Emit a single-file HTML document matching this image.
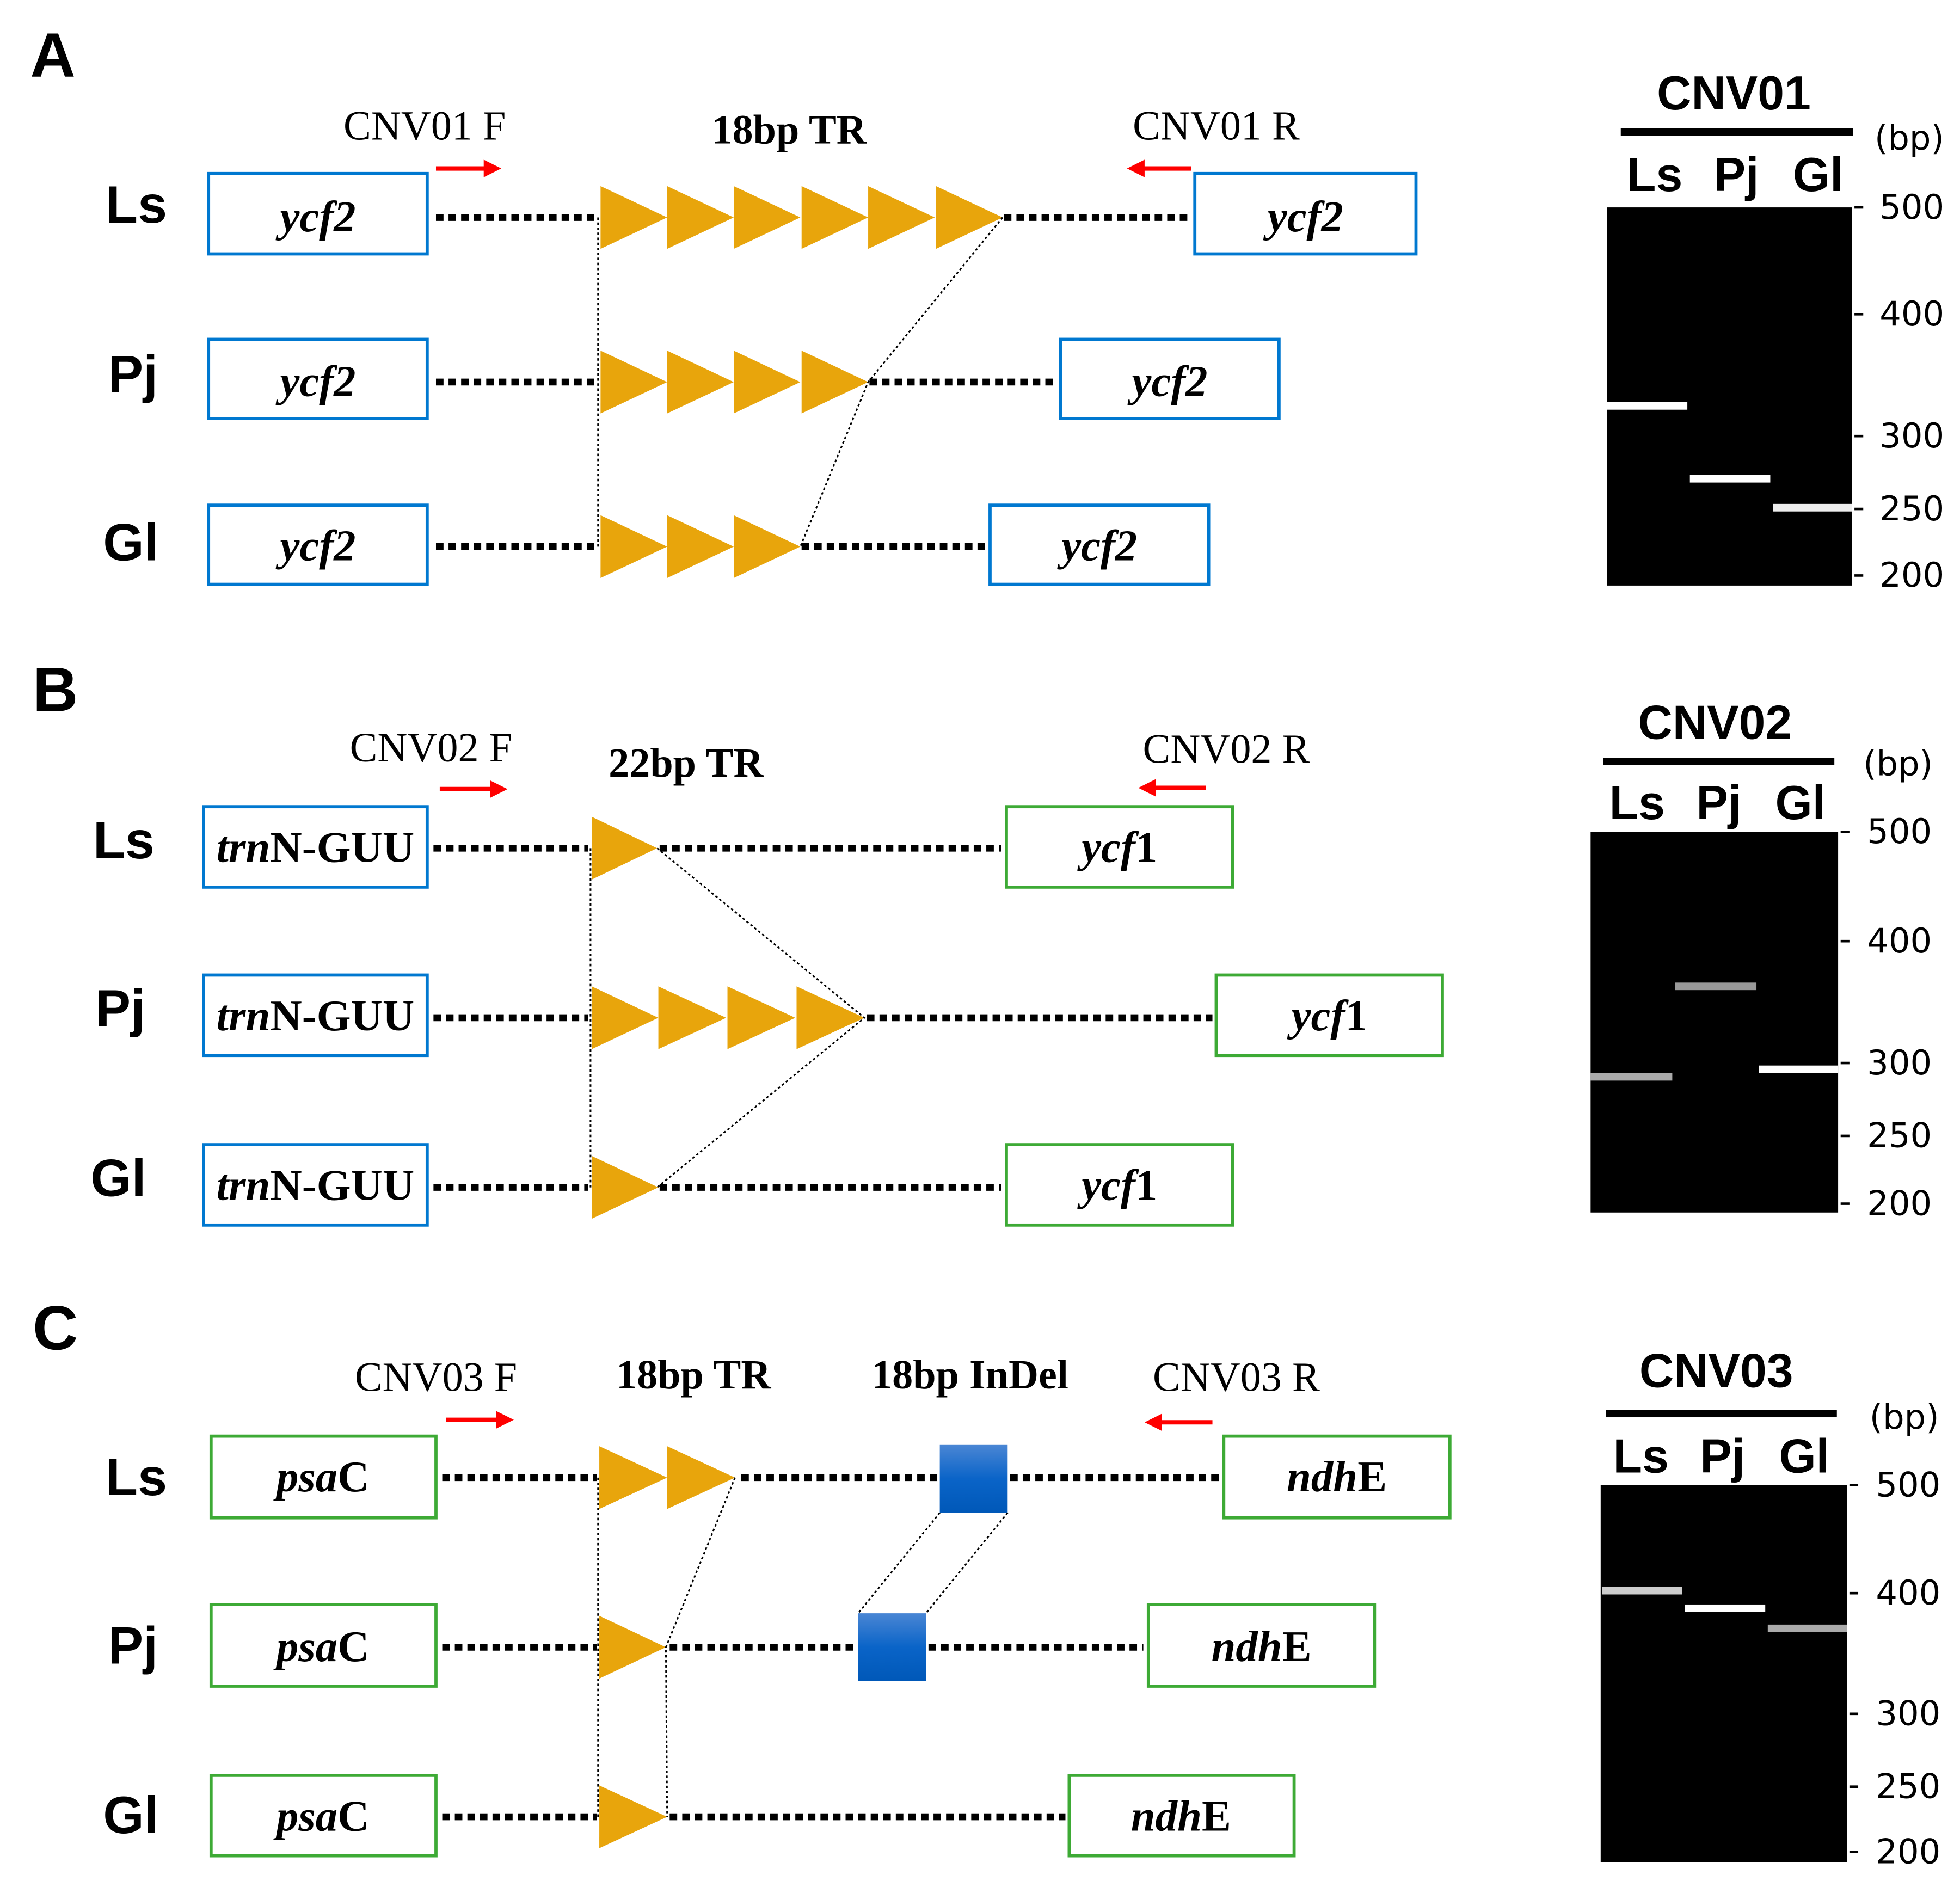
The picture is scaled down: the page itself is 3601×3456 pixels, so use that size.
<!DOCTYPE html>
<html><head><meta charset="utf-8"><style>
html,body{margin:0;padding:0;background:#fff;}
svg{display:block;}
.lab{font-family:"Liberation Sans",sans-serif;font-weight:bold;}
.ser{font-family:"Liberation Serif",serif;}
.gene{font-family:"Liberation Serif",serif;font-weight:bold;font-size:35px;}
.tick{font-family:"DejaVu Sans","Liberation Sans",sans-serif;font-size:27px;}
</style></head><body>
<svg width="3601" height="3456" viewBox="0 0 1560 1497" xmlns="http://www.w3.org/2000/svg">
<defs>
<linearGradient id="bg" x1="0" y1="0" x2="0" y2="1"><stop offset="0" stop-color="#4a86d4"/><stop offset="0.5" stop-color="#0a64c8"/><stop offset="1" stop-color="#0058b8"/></linearGradient>
<marker id="ah" markerWidth="4" markerHeight="4" refX="2" refY="2" orient="auto" markerUnits="strokeWidth"><path d="M0,0 L4,2 L0,4 z" fill="#ff0000"/></marker>
</defs>
<g fill="none" stroke="#000" stroke-width="5.5" stroke-dasharray="6,4">
<line x1="347" y1="173" x2="475" y2="173"/><line x1="799" y1="173" x2="945" y2="173"/>
<line x1="347" y1="304" x2="475" y2="304"/><line x1="692" y1="304" x2="840" y2="304"/>
<line x1="347" y1="435" x2="475" y2="435"/><line x1="638" y1="435" x2="785" y2="435"/>
<line x1="345" y1="675" x2="468" y2="675"/><line x1="525" y1="675" x2="797" y2="675"/>
<line x1="345" y1="810" x2="468" y2="810"/><line x1="690" y1="810" x2="965" y2="810"/>
<line x1="345" y1="945" x2="468" y2="945"/><line x1="525" y1="945" x2="797" y2="945"/>
<line x1="352" y1="1176" x2="475" y2="1176"/><line x1="590" y1="1176" x2="746" y2="1176"/><line x1="804" y1="1176" x2="970" y2="1176"/>
<line x1="352" y1="1311" x2="475" y2="1311"/><line x1="533" y1="1311" x2="681" y2="1311"/><line x1="739" y1="1311" x2="910" y2="1311"/>
<line x1="352" y1="1446" x2="475" y2="1446"/><line x1="533" y1="1446" x2="848" y2="1446"/>
</g>
<g fill="#E8A50C">
<polygon points="478,148 531,173 478,198"/><polygon points="531,148 584,173 531,198"/><polygon points="584,148 637,173 584,198"/><polygon points="638,148 691,173 638,198"/><polygon points="691,148 744,173 691,198"/><polygon points="745,148 798,173 745,198"/>
<polygon points="478,279 531,304 478,329"/><polygon points="531,279 584,304 531,329"/><polygon points="584,279 637,304 584,329"/><polygon points="638,279 691,304 638,329"/>
<polygon points="478,410 531,435 478,460"/><polygon points="531,410 584,435 531,460"/><polygon points="584,410 637,435 584,460"/>
<polygon points="471,650 523,675 471,700"/>
<polygon points="471,785 524,810 471,835"/><polygon points="524,785 578,810 524,835"/><polygon points="579,785 633,810 579,835"/><polygon points="634,785 688,810 634,835"/>
<polygon points="471,920 524,945 471,970"/>
<polygon points="477,1151 531,1176 477,1201"/><polygon points="531,1151 585,1176 531,1201"/>
<polygon points="477,1286 530,1311 477,1336"/>
<polygon points="477,1421 531,1446 477,1471"/>
</g>
<rect x="748" y="1150" width="54" height="54" fill="url(#bg)"/>
<rect x="683" y="1284" width="54" height="54" fill="url(#bg)"/>
<g fill="none" stroke="#000" stroke-width="1.3" stroke-dasharray="2,2">
<line x1="476" y1="173" x2="476" y2="435"/><polyline points="798,173 691,304 637,435"/>
<line x1="470" y1="675" x2="470" y2="945"/><polyline points="523,675 688,810 523,945"/>
<line x1="476" y1="1176" x2="476" y2="1446"/><polyline points="585,1176 530,1311 531,1446"/>
<line x1="748" y1="1204" x2="683" y2="1284"/><line x1="802" y1="1204" x2="737" y2="1284"/>
</g>
<g fill="#fff" stroke-width="2.5">
<rect x="166" y="138" width="174" height="64" stroke="#0078D0"/><rect x="951" y="138" width="176" height="64" stroke="#0078D0"/>
<rect x="166" y="270" width="174" height="63" stroke="#0078D0"/><rect x="844" y="270" width="174" height="63" stroke="#0078D0"/>
<rect x="166" y="402" width="174" height="63" stroke="#0078D0"/><rect x="788" y="402" width="174" height="63" stroke="#0078D0"/>
<rect x="162" y="642" width="178" height="64" stroke="#0078D0"/><rect x="801" y="642" width="180" height="64" stroke="#3DAA35"/>
<rect x="162" y="776" width="178" height="64" stroke="#0078D0"/><rect x="968" y="776" width="180" height="64" stroke="#3DAA35"/>
<rect x="162" y="911" width="178" height="64" stroke="#0078D0"/><rect x="801" y="911" width="180" height="64" stroke="#3DAA35"/>
<rect x="168" y="1143" width="179" height="65" stroke="#3DAA35"/><rect x="974" y="1143" width="180" height="65" stroke="#3DAA35"/>
<rect x="168" y="1277" width="179" height="65" stroke="#3DAA35"/><rect x="914" y="1277" width="180" height="65" stroke="#3DAA35"/>
<rect x="168" y="1413" width="179" height="64" stroke="#3DAA35"/><rect x="851" y="1413" width="179" height="64" stroke="#3DAA35"/>
</g>
<g class="gene" text-anchor="middle">
<text x="253" y="184" font-style="italic">ycf2</text><text x="1039" y="184" font-style="italic">ycf2</text>
<text x="253" y="315" font-style="italic">ycf2</text><text x="931" y="315" font-style="italic">ycf2</text>
<text x="253" y="446" font-style="italic">ycf2</text><text x="875" y="446" font-style="italic">ycf2</text>
<text x="251" y="686"><tspan font-style="italic">trn</tspan>N-GUU</text><text x="891" y="686"><tspan font-style="italic">ycf</tspan>1</text>
<text x="251" y="820"><tspan font-style="italic">trn</tspan>N-GUU</text><text x="1058" y="820"><tspan font-style="italic">ycf</tspan>1</text>
<text x="251" y="955"><tspan font-style="italic">trn</tspan>N-GUU</text><text x="891" y="955"><tspan font-style="italic">ycf</tspan>1</text>
<text x="257" y="1187"><tspan font-style="italic">psa</tspan>C</text><text x="1064" y="1187"><tspan font-style="italic">ndh</tspan>E</text>
<text x="257" y="1322"><tspan font-style="italic">psa</tspan>C</text><text x="1004" y="1322"><tspan font-style="italic">ndh</tspan>E</text>
<text x="257" y="1457"><tspan font-style="italic">psa</tspan>C</text><text x="940" y="1457"><tspan font-style="italic">ndh</tspan>E</text>
</g>
<g class="ser" font-size="33" text-anchor="middle">
<text x="338" y="111">CNV01 F</text><text x="968" y="111">CNV01 R</text>
<text x="343" y="606">CNV02 F</text><text x="976" y="607">CNV02 R</text>
<text x="347" y="1107">CNV03 F</text><text x="984" y="1107">CNV03 R</text>
<g font-weight="bold"><text x="628" y="114">18bp TR</text><text x="546" y="618">22bp TR</text><text x="552" y="1105">18bp TR</text><text x="772" y="1105">18bp InDel</text></g>
</g>
<g stroke="#ff0000" stroke-width="3.5" fill="none">
<line x1="347" y1="134" x2="392" y2="134" marker-end="url(#ah)"/>
<line x1="948" y1="134" x2="904" y2="134" marker-end="url(#ah)"/>
<line x1="350" y1="628" x2="397" y2="628" marker-end="url(#ah)"/>
<line x1="960" y1="627" x2="913" y2="627" marker-end="url(#ah)"/>
<line x1="355" y1="1130" x2="402" y2="1130" marker-end="url(#ah)"/>
<line x1="965" y1="1132" x2="918" y2="1132" marker-end="url(#ah)"/>
</g>
<g class="lab" font-size="50"><text x="24" y="61">A</text><text x="26" y="566">B</text><text x="26" y="1074">C</text></g>
<g class="lab" font-size="42">
<text x="84" y="177">Ls</text><text x="86" y="312">Pj</text><text x="82" y="446">Gl</text>
<text x="74" y="683">Ls</text><text x="76" y="817">Pj</text><text x="72" y="952">Gl</text>
<text x="84" y="1190">Ls</text><text x="86" y="1324">Pj</text><text x="82" y="1459">Gl</text>
</g>
<g>
<rect x="1279" y="165" width="195" height="301" fill="#000"/>
<rect x="1279" y="320" width="64" height="6" fill="#fff"/><rect x="1345" y="378" width="64" height="6" fill="#fff"/><rect x="1411" y="401" width="63" height="6" fill="#eee"/>
<rect x="1290" y="102" width="185" height="6" fill="#000"/>
<g class="lab" font-size="38" text-anchor="middle"><text x="1380" y="87">CNV01</text><text x="1317" y="152">Ls</text><text x="1382" y="152">Pj</text><text x="1447" y="152">Gl</text></g>
<text class="tick" x="1492" y="119">(bp)</text>
<g stroke="#000" stroke-width="2"><line x1="1476" y1="165" x2="1483" y2="165"/><line x1="1476" y1="250" x2="1483" y2="250"/><line x1="1476" y1="347" x2="1483" y2="347"/><line x1="1476" y1="405" x2="1483" y2="405"/><line x1="1476" y1="458" x2="1483" y2="458"/></g>
<g class="tick"><text x="1496" y="174">500</text><text x="1496" y="259">400</text><text x="1496" y="356">300</text><text x="1496" y="414">250</text><text x="1496" y="467">200</text></g>
</g>
<g>
<rect x="1266" y="662" width="197" height="303" fill="#000"/>
<rect x="1266" y="854" width="65" height="6" fill="#aaa"/><rect x="1333" y="782" width="65" height="6" fill="#999"/><rect x="1400" y="848" width="63" height="6" fill="#fff"/>
<rect x="1276" y="603" width="184" height="6" fill="#000"/>
<g class="lab" font-size="38" text-anchor="middle"><text x="1365" y="588">CNV02</text><text x="1303" y="652">Ls</text><text x="1368" y="652">Pj</text><text x="1433" y="652">Gl</text></g>
<text class="tick" x="1483" y="617">(bp)</text>
<g stroke="#000" stroke-width="2"><line x1="1465" y1="662" x2="1472" y2="662"/><line x1="1465" y1="749" x2="1472" y2="749"/><line x1="1465" y1="846" x2="1472" y2="846"/><line x1="1465" y1="904" x2="1472" y2="904"/><line x1="1465" y1="958" x2="1472" y2="958"/></g>
<g class="tick"><text x="1486" y="671">500</text><text x="1486" y="758">400</text><text x="1486" y="855">300</text><text x="1486" y="913">250</text><text x="1486" y="967">200</text></g>
</g>
<g>
<rect x="1274" y="1182" width="196" height="300" fill="#000"/>
<rect x="1275" y="1263" width="64" height="6" fill="#ccc"/><rect x="1341" y="1277" width="64" height="6" fill="#fff"/><rect x="1407" y="1293" width="63" height="6" fill="#aaa"/>
<rect x="1278" y="1122" width="184" height="6" fill="#000"/>
<g class="lab" font-size="38" text-anchor="middle"><text x="1366" y="1104">CNV03</text><text x="1306" y="1172">Ls</text><text x="1371" y="1172">Pj</text><text x="1436" y="1172">Gl</text></g>
<text class="tick" x="1488" y="1137">(bp)</text>
<g stroke="#000" stroke-width="2"><line x1="1472" y1="1182" x2="1479" y2="1182"/><line x1="1472" y1="1268" x2="1479" y2="1268"/><line x1="1472" y1="1364" x2="1479" y2="1364"/><line x1="1472" y1="1422" x2="1479" y2="1422"/><line x1="1472" y1="1474" x2="1479" y2="1474"/></g>
<g class="tick"><text x="1493" y="1191">500</text><text x="1493" y="1277">400</text><text x="1493" y="1373">300</text><text x="1493" y="1431">250</text><text x="1493" y="1483">200</text></g>
</g>
</svg>
</body></html>
